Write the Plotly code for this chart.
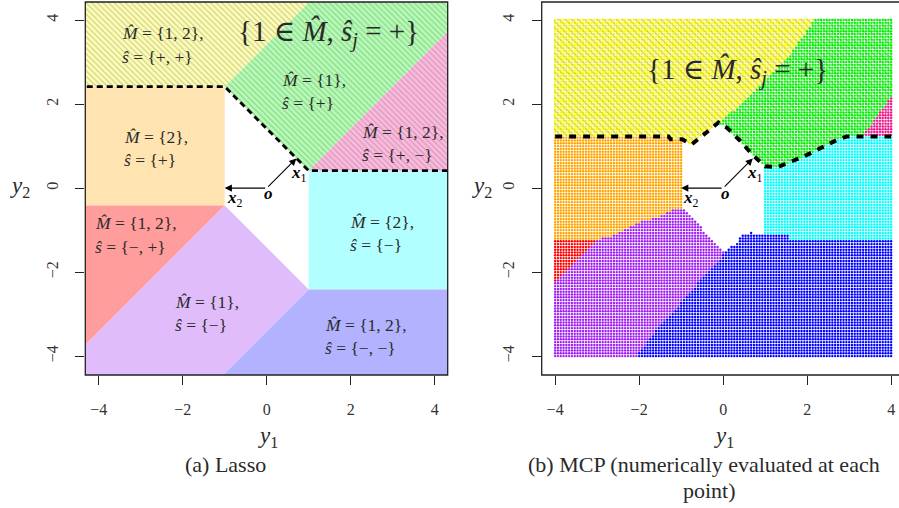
import numpy as np
import plotly.graph_objects as go

# ---------------- (a) Lasso: region vertices (y1, y2) ----------------
pp_y1 = [-5, -1, 1.586, -5]            # M={1,2}, s={+,+}
pp_y2 = [2.414, 2.414, 5, 5]
p_y1 = [-1, 1, 5, 5, 1.586]            # M={1}, s={+}
p_y2 = [2.414, 0.414, 4.414, 5, 5]
pm_y1 = [1, 5, 5]                      # M={1,2}, s={+,-}
pm_y2 = [0.414, 0.414, 4.414]
two_p_y1 = [-5, -1, -1, -5]            # M={2}, s={+}
two_p_y2 = [-0.414, -0.414, 2.414, 2.414]
two_m_y1 = [1, 5, 5, 1]                # M={2}, s={-}
two_m_y2 = [-2.414, -2.414, 0.414, 0.414]
mp_y1 = [-5, -1, -5]                   # M={1,2}, s={-,+}
mp_y2 = [-0.414, -0.414, -4.414]
m_y1 = [-1, 1, -1.586, -5, -5]         # M={1}, s={-}
m_y2 = [-0.414, -2.414, -5, -5, -4.414]
mm_y1 = [1, 5, 5, -1.586]              # M={1,2}, s={-,-}
mm_y2 = [-2.414, -2.414, -5, -5]
lasso_dash_y1 = [-5, -1, 1, 5]
lasso_dash_y2 = [2.414, 2.414, 0.414, 0.414]

# ---------------- (b) MCP: region boundaries ----------------
grid_vals = np.linspace(-4, 4, 121)
mcp_edge_y1 = [-4.0, -1.3, -1.25, -0.98, -0.75, -0.45, -0.11, 0.1, 0.4, 0.71, 1.0, 1.3, 1.6, 2.0, 2.4, 2.7, 2.95, 4.0]
mcp_edge_y2 = [1.23, 1.23, 1.16, 1.16, 1.04, 1.28, 1.56, 1.43, 1.13, 0.78, 0.52, 0.5, 0.62, 0.79, 0.99, 1.14, 1.23, 1.23]
mcp_yg_y1 = [-0.11, 0.45, 1.6, 2.25]   # yellow / green division
mcp_yg_y2 = [1.56, 2.0, 3.2, 4.1]
mcp_pink_y1 = [3.3, 4.1, 4.1]
mcp_pink_y2 = [1.2, 1.2, 2.32]
mcp_orange_y1 = [-4.1, -0.97, -0.97, -1.2, -1.57, -1.97, -2.37, -2.69, -3.0, -4.1]
mcp_orange_y2 = [1.3, 1.3, -0.5, -0.5, -0.69, -0.81, -1.0, -1.16, -1.23, -1.23]
mcp_red_y1 = [-4.1, -3.0, -4.1]
mcp_red_y2 = [-1.23, -1.23, -2.3]
mcp_purple_y1 = [-4.1, -3.0, -2.69, -2.37, -1.97, -1.57, -1.2, -0.95, -0.79, -0.51, -0.27, -0.03, 0.05,
                 -0.23, -0.54, -1.02, -1.66, -2.12, -4.1]
mcp_purple_y2 = [-1.23, -1.23, -1.16, -1.0, -0.81, -0.69, -0.46, -0.46, -0.64, -0.96, -1.2, -1.44, -1.53,
                 -1.87, -2.19, -2.75, -3.46, -4.1, -4.1]
mcp_blue_y1 = [-2.12, -1.66, -1.02, -0.54, -0.23, 0.05, 0.33, 0.44, 0.66, 0.96, 1.55, 1.58, 4.1, 4.1]
mcp_blue_y2 = [-4.1, -3.46, -2.75, -2.19, -1.87, -1.53, -1.28, -1.12, -1.05, -1.13, -1.13, -1.23, -1.23, -4.1]
mcp_cyan_y1 = [0.97, 4.1, 4.1, 0.97]
mcp_cyan_y2 = [-1.3, -1.3, 1.3, 1.3]

# vectors
x1_vec = [0.707, 0.707]
x2_vec = [-1.0, 0.0]

FONT = "Liberation Serif, Times New Roman, DejaVu Serif, serif"
TXT = "#2a2a2a"


def inside(px, py, vx, vy):
    vx = np.asarray(vx, float); vy = np.asarray(vy, float)
    res = np.zeros(px.shape, bool)
    j = len(vx) - 1
    for i in range(len(vx)):
        dy = vy[j] - vy[i]
        dy = np.where(dy == 0, 1e-12, dy)
        c = ((vy[i] > py) != (vy[j] > py)) & (px < (vx[j] - vx[i]) * (py - vy[i]) / dy + vx[i])
        res ^= c
        j = i
    return res


fig = go.Figure()

# ---------- left panel fills ----------
hatch_fg = "rgba(90,90,90,0.6)"
regions = [
    (pp_y1, pp_y2, "#FFFFB2", True),
    (p_y1, p_y2, "#B2FFB2", True),
    (pm_y1, pm_y2, "#FFB9DF", True),
    (two_p_y1, two_p_y2, "#FFE4B2", False),
    (two_m_y1, two_m_y2, "#B2FFFF", False),
    (mp_y1, mp_y2, "#FF9C9C", False),
    (m_y1, m_y2, "#E1BCFA", False),
    (mm_y1, mm_y2, "#B2B2FF", False),
]
for xs, ys, col, hatch in regions:
    kw = dict(x=xs, y=ys, fill="toself", mode="none", fillcolor=col, hoverinfo="skip",
              showlegend=False, xaxis="x", yaxis="y")
    if hatch:
        kw["fillpattern"] = dict(shape="\\", bgcolor=col, fgcolor=hatch_fg, size=4, solidity=0.3)
    fig.add_trace(go.Scatter(**kw))

fig.add_trace(go.Scatter(x=lasso_dash_y1, y=lasso_dash_y2, mode="lines",
                         line=dict(color="black", width=2.8, dash="6px,4px"),
                         hoverinfo="skip", showlegend=False, xaxis="x", yaxis="y"))

# ---------- right panel dots ----------
GX, GY = np.meshgrid(grid_vals, grid_vals)
GX = GX.ravel(); GY = GY.ravel()
assigned = np.zeros(GX.shape, bool)
top_poly_y1 = mcp_edge_y1[:-1] + [4.1, 4.1, -4.1]
top_poly_y2 = mcp_edge_y2[:-1] + [mcp_edge_y2[-1], 4.1, 4.1]
top_poly_y1[0] = -4.1
in_top = inside(GX, GY, top_poly_y1, top_poly_y2)
yellow_poly_y1 = mcp_yg_y1 + [-4.1, -4.1, mcp_yg_y1[0]]
yellow_poly_y2 = mcp_yg_y2 + [4.1, 0.5, 0.5]

groups = []
m_pink = in_top & inside(GX, GY, mcp_pink_y1, mcp_pink_y2)
m_yellow = in_top & ~m_pink & inside(GX, GY, yellow_poly_y1, yellow_poly_y2)
m_green = in_top & ~m_pink & ~m_yellow
assigned |= in_top
groups += [(m_yellow, "#FFFF00"), (m_green, "#00FF00"), (m_pink, "#FF1493")]
for vx, vy, col in [(mcp_orange_y1, mcp_orange_y2, "#FFA500"),
                    (mcp_red_y1, mcp_red_y2, "#FF0000"),
                    (mcp_purple_y1, mcp_purple_y2, "#A020F0"),
                    (mcp_blue_y1, mcp_blue_y2, "#0000FF"),
                    (mcp_cyan_y1, mcp_cyan_y2, "#00FFFF")]:
    m = ~assigned & inside(GX, GY, vx, vy)
    assigned |= m
    groups.append((m, col))

for m, col in groups:
    fig.add_trace(go.Scatter(x=GX[m], y=GY[m], mode="markers",
                             marker=dict(color=col, size=2.4, line=dict(width=0)),
                             hoverinfo="skip", showlegend=False, xaxis="x2", yaxis="y2"))

# hatch over the {1 in M, s=+} region (right)
hatch_y1 = [-4.03] + mcp_edge_y1[1:-1] + [4.03, 4.03, -4.03]
hatch_y2 = mcp_edge_y2 + [4.03, 4.03]
fig.add_trace(go.Scatter(x=hatch_y1, y=hatch_y2, fill="toself", mode="none",
                         fillcolor="rgba(0,0,0,0)",
                         fillpattern=dict(shape="\\", bgcolor="rgba(0,0,0,0)",
                                          fgcolor="rgba(80,80,80,0.65)", size=4.5, solidity=0.25),
                         hoverinfo="skip", showlegend=False, xaxis="x2", yaxis="y2"))
fig.add_trace(go.Scatter(x=mcp_edge_y1, y=mcp_edge_y2, mode="lines",
                         line=dict(color="black", width=4, dash="7px,7px"),
                         hoverinfo="skip", showlegend=False, xaxis="x2", yaxis="y2"))

# ---------- layout ----------
W, H = 899, 508
ytop, ybot = 1 - 2 / H, 1 - 375 / H
axis_common = dict(showgrid=False, zeroline=False, showline=False, ticks="outside", ticklen=9,
                   tickwidth=1, tickcolor="#222", tickvals=[-4, -2, 0, 2, 4],
                   tickfont=dict(family=FONT, size=16, color="#333"), ticklabelstandoff=11)
fig.update_layout(
    width=W, height=H, margin=dict(l=0, r=0, t=0, b=0),
    paper_bgcolor="white", plot_bgcolor="white",
    xaxis=dict(domain=[85.3 / W, 447.7 / W], range=[-4.32, 4.31], anchor="y", **axis_common),
    yaxis=dict(domain=[ybot, ytop], range=[-4.45, 4.43], anchor="x", tickangle=-90, **axis_common),
    xaxis2=dict(domain=[541.7 / W, 1.0], range=[-4.32, -4.32 + (W - 541.7) / 42], anchor="y2", **axis_common),
    yaxis2=dict(domain=[ybot, ytop], range=[-4.45, 4.43], anchor="x2", tickangle=-90, **axis_common),
    font=dict(family=FONT, color=TXT),
)

# boxes
fig.add_shape(type="rect", xref="paper", yref="paper", x0=85.3 / W, x1=447.7 / W, y0=ybot, y1=ytop,
              line=dict(color="#222", width=1.3))
fig.add_shape(type="rect", xref="paper", yref="paper", x0=541.7 / W, x1=1.02, y0=ybot, y1=ytop,
              line=dict(color="#222", width=1.3))

ann = []
# region labels left panel
lab = [
    (-3.49, 3.69, 3.12, "{1, 2},", "{+, +}"),
    (0.32, 2.57, 2.02, "{1},", "{+}"),
    (2.22, 1.33, 0.79, "{1, 2},", "{+, −}"),
    (-3.45, 1.21, 0.67, "{2},", "{+}"),
    (-4.14, -0.83, -1.40, "{1, 2},", "{−, +}"),
    (1.94, -0.81, -1.36, "{2},", "{−}"),
    (-2.23, -2.71, -3.26, "{1},", "{−}"),
    (1.34, -3.26, -3.81, "{1, 2},", "{−, −}"),
]
for x, ya, yb, mtxt, stxt in lab:
    ann.append(dict(x=x, y=ya, xref="x", yref="y", xanchor="left", yanchor="middle", showarrow=False,
                    text="<i>M̂</i> = " + mtxt, font=dict(family=FONT, size=17.5, color=TXT)))
    ann.append(dict(x=x, y=yb, xref="x", yref="y", xanchor="left", yanchor="middle", showarrow=False,
                    text="<i>ŝ</i> = " + stxt, font=dict(family=FONT, size=17.5, color=TXT)))

big = "{1 ∈ <i>M̂</i>, <i>ŝ<sub>j</sub></i> = +}"
ann.append(dict(x=1.46, y=3.69, xref="x", yref="y", showarrow=False, text=big,
                xanchor="center", yanchor="middle", font=dict(family=FONT, size=29, color=TXT)))
ann.append(dict(x=0.33, y=2.77, xref="x2", yref="y2", showarrow=False, text=big,
                xanchor="center", yanchor="middle", font=dict(family=FONT, size=29, color=TXT)))

# arrows & vector labels
for xr, yr in [("x", "y"), ("x2", "y2")]:
    for v in (x1_vec, x2_vec):
        ann.append(dict(x=v[0], y=v[1], ax=0, ay=0, xref=xr, yref=yr, axref=xr, ayref=yr,
                        showarrow=True, arrowhead=2, arrowsize=1.3, arrowwidth=1.1, arrowcolor="black",
                        text=""))
    ann.append(dict(x=0.05, y=-0.14, xref=xr, yref=yr, showarrow=False, text="<b><i>o</i></b>",
                    xanchor="center", yanchor="middle", font=dict(family=FONT, size=17, color="black")))
    ann.append(dict(x=0.77, y=0.33, xref=xr, yref=yr, showarrow=False, text="<b><i>x</i></b><sub>1</sub>",
                    xanchor="center", yanchor="middle", font=dict(family=FONT, size=17, color="black")))
    ann.append(dict(x=-0.76, y=-0.27, xref=xr, yref=yr, showarrow=False, text="<b><i>x</i></b><sub>2</sub>",
                    xanchor="center", yanchor="middle", font=dict(family=FONT, size=17, color="black")))


def paper_text(xp, yp, txt, size):
    return dict(x=xp / W, y=1 - yp / H, xref="paper", yref="paper", showarrow=False, text=txt,
                xanchor="center", yanchor="middle", font=dict(family=FONT, size=size, color=TXT))


for xp in (20, 482):
    ann.append(paper_text(xp, 187, "<i>y</i><sub>2</sub>", 23))
for xp in (268, 724):
    ann.append(paper_text(xp, 437, "<i>y</i><sub>1</sub>", 23))
ann.append(paper_text(226, 464, "(a) Lasso", 22))
ann.append(paper_text(704, 464, "(b) MCP (numerically evaluated at each", 22))
ann.append(paper_text(709, 490, "point)", 22))

fig.update_layout(annotations=ann)
fig.write_html("out.html", config={"displayModeBar": False},
               post_script="document.body.style.margin='0';document.body.style.overflow='hidden';")
